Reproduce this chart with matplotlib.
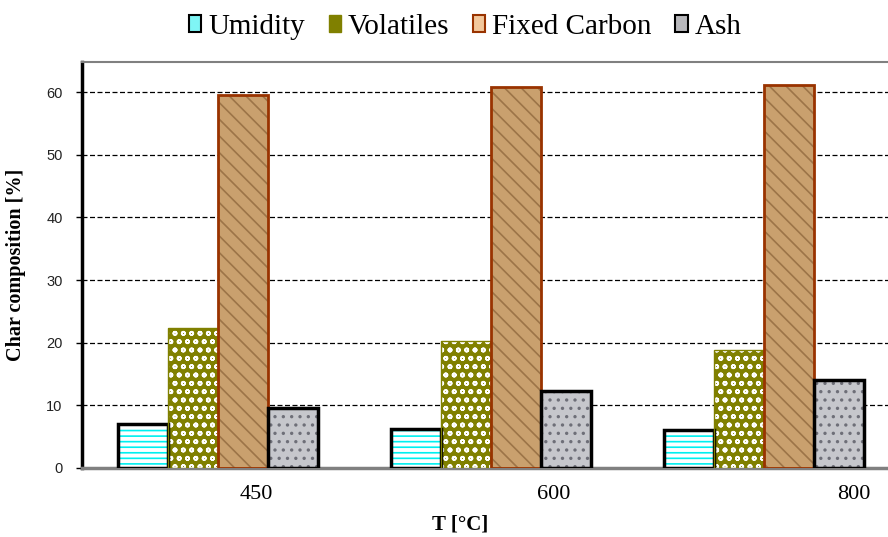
# CHAR COMPOSITION VS PYROLYSIS TEMPERATURE

import numpy as np
import matplotlib.pyplot as plt
from matplotlib.patches import Patch


# DATA

temps = ['450', '600', '800']
umidity = [7.0, 6.2, 6.1]
volatiles = [22.3, 20.3, 18.8]
fixed_carbon = [59.5, 60.8, 61.2]
ash = [9.6, 12.3, 14.0]

series_names = ['Umidity', 'Volatiles', 'Fixed Carbon', 'Ash']
series_values = [umidity, volatiles, fixed_carbon, ash]


# STYLES (face colour, hatch, hatch colour, edge colour, edge width)

styles = [
    ('white', '---', '#00F0F0', 'black', 2.5),
    ('#808000', 'oo', 'white', '#808000', 1.0),
    ('#C9A06E', '\\\\', '#9C7448', '#993300', 2.0),
    ('#C6C7CC', '..', '#6E6F78', 'black', 2.5),
]

plt.rcParams['hatch.linewidth'] = 1.2

fig = plt.figure(figsize=(8.88, 5.37), dpi=100)
ax = fig.add_axes([0.0923, 0.1285, 0.9077, 0.756])

x = np.arange(len(temps))
w = 0.183
offsets = [-1.5, -0.5, 0.5, 1.5]

for vals, off, (face, hatch, hcol, ecol, lw) in zip(series_values, offsets, styles):
    # filled + hatched body, then the outline on top
    ax.bar(x + off * w, vals, w, color=face, hatch=hatch, edgecolor=hcol,
           linewidth=0, zorder=3)
    ax.bar(x + off * w, vals, w, fill=False, edgecolor=ecol,
           linewidth=lw, zorder=4)


# AXES

ax.set_xlim(-0.498, 2.455)
ax.set_ylim(0, 64.8)
ax.set_yticks(np.arange(0, 61, 10))
ax.tick_params(axis='y', length=4, width=1, direction='out', labelsize=10.5,
               labelcolor='#222222', pad=10)
for lab in ax.get_yticklabels():
    lab.set_family('Liberation Sans')

# tick labels sit to the right of the groups, as in the original
ax.set_xticks([0.14, 1.23, 2.33])
ax.set_xticklabels(temps, family='Liberation Serif', fontsize=16)
ax.tick_params(axis='x', length=0, pad=12)

ax.yaxis.grid(True, color='black', linestyle=(0, (4, 2)), linewidth=0.9, zorder=0)
ax.set_axisbelow(True)

ax.spines['right'].set_visible(False)
ax.spines['left'].set_color('black')
ax.spines['left'].set_linewidth(2.5)
ax.spines['bottom'].set_color('#808080')
ax.spines['bottom'].set_linewidth(2.5)
ax.spines['top'].set_color('#808080')
ax.spines['top'].set_linewidth(1.5)

ax.set_ylabel('Char composition [%]', family='Liberation Serif',
              fontweight='bold', fontsize=14.5)
ax.yaxis.set_label_coords(-0.069, 0.5)
ax.set_xlabel('T [°C]', family='Liberation Serif', fontweight='bold', fontsize=15)
ax.xaxis.set_label_coords(0.469, -0.115)


# LEGEND

handles = [
    Patch(facecolor='#7FF5F5', edgecolor='black', linewidth=1.5),
    Patch(facecolor='#808000', edgecolor='#808000', hatch='o', linewidth=1.0),
    Patch(facecolor='#F2C89C', edgecolor='#993300', linewidth=1.5),
    Patch(facecolor='#B8B8BC', edgecolor='black', linewidth=1.5),
]
fig.legend(handles, series_names, loc='center', bbox_to_anchor=(0.524, 0.95),
           ncol=4, frameon=False, prop={'family': 'Liberation Serif', 'size': 21},
           handlelength=0.42, handleheight=0.5, handletextpad=0.25,
           columnspacing=0.8)

plt.savefig('out.png', dpi=100)
